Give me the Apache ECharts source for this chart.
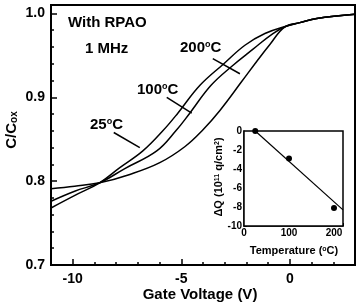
<!DOCTYPE html>
<html><head><meta charset="utf-8">
<script src="https://cdn.jsdelivr.net/npm/echarts@6/dist/echarts.min.js"></script>
<style>html,body{margin:0;padding:0;background:#fff}#c{width:358px;height:304px}</style>
</head><body><div id="c"></div>
<script>
// Main C-V curves (gate voltage in V, normalized capacitance C/Cox)
const voltage25 = [-11, -9.9, -8.76, -7.83, -6.77, -5.85, -5.16, -4.15, -3.04, -2.07, -1.15, -0.14, 0.46, 1.24, 3.0];
const cap25     = [0.768, 0.783, 0.798, 0.816, 0.836, 0.860, 0.881, 0.914, 0.940, 0.962, 0.976, 0.985, 0.989, 0.994, 0.999];
const voltage100 = [-11, -9.91, -8.76, -7.60, -6.13, -5.25, -4.61, -3.64, -2.67, -1.71, -0.78, -0.14, 0.46, 1.24, 3.0];
const cap100     = [0.776, 0.788, 0.798, 0.815, 0.836, 0.860, 0.881, 0.914, 0.937, 0.957, 0.976, 0.985, 0.989, 0.994, 0.999];
const voltage200 = [-11, -9.91, -8.76, -7.37, -5.99, -4.84, -4.01, -3.23, -2.21, -1.52, -0.92, -0.23, 0.46, 1.24, 3.0];
const cap200     = [0.791, 0.794, 0.798, 0.808, 0.822, 0.841, 0.861, 0.884, 0.919, 0.943, 0.963, 0.984, 0.989, 0.994, 0.999];

// Pointer lines from labels to curves (data coordinates)
const pointer25V = [-8.11, -6.91];  const pointer25C = [0.858, 0.840];
const pointer100V = [-5.67, -4.52]; const pointer100C = [0.900, 0.881];
const pointer200V = [-3.55, -2.30]; const pointer200C = [0.946, 0.928];

// Axis ticks
const xMajorTicks = [-10, -5, 0];
const yMajorTicks = [0.7, 0.8, 0.9, 1.0];

// Inset: delta Q vs temperature
const tempC  = [25, 100, 200];
const deltaQ = [0, -2.9, -8.1];
const fitT = [25, 220];
const fitQ = [0, -8.3];

const FONT = '"Liberation Sans", Arial, Helvetica, sans-serif';
const pairs = (xs, ys) => xs.map((x, i) => [x, ys[i]]);
const blackLine = (xs, ys, w, xi, yi, smooth) => ({
  type: 'line', data: pairs(xs, ys), xAxisIndex: xi, yAxisIndex: yi,
  smooth: smooth || false, symbol: 'none', silent: true,
  lineStyle: { color: '#000', width: w }, z: 3
});

const chart = echarts.init(document.getElementById('c'), null, { renderer: 'canvas' });
const tickStyle = { color: '#000', width: 1.5 };
const labelBase = { color: '#000', fontFamily: FONT, fontWeight: 'bold' };

const option = {
  animation: false,
  backgroundColor: '#fff',
  grid: [
    { left: 51, right: 3, top: 5, bottom: 39, show: true, borderColor: '#000', borderWidth: 2, backgroundColor: 'transparent' },
    { left: 244, top: 131, width: 99, height: 95, show: true, borderColor: '#000', borderWidth: 1.5, backgroundColor: '#fff', z: 5 }
  ],
  xAxis: [
    { gridIndex: 0, type: 'value', min: -11, max: 3, interval: 1, position: 'bottom',
      axisLine: { onZero: false, lineStyle: { color: '#000', width: 2 } },
      axisTick: { inside: true, length: 3, lineStyle: tickStyle },
      axisLabel: Object.assign({}, labelBase, { interval: 0, fontSize: 14, margin: 7,
        formatter: v => (Math.abs(v % 5) < 1e-9 ? String(Math.round(v)) : '') }),
      splitLine: { show: false } },
    { gridIndex: 0, type: 'value', min: -11, max: 3, position: 'bottom',
      axisLine: { show: false, onZero: false },
      axisTick: { inside: true, length: 6, customValues: xMajorTicks, lineStyle: tickStyle },
      axisLabel: { show: false }, splitLine: { show: false } },
    { gridIndex: 1, type: 'value', min: 0, max: 220, interval: 50, position: 'bottom',
      axisLine: { onZero: false, lineStyle: { color: '#000', width: 1.5 } },
      axisTick: { inside: true, length: 3, lineStyle: { color: '#000', width: 1 } },
      axisLabel: Object.assign({}, labelBase, { interval: 0, fontSize: 10, margin: 2,
        formatter: v => ((v % 100 === 0 && v <= 200) ? String(v) : '') }),
      splitLine: { show: false } }
  ],
  yAxis: [
    { gridIndex: 0, type: 'value', min: 0.7, max: 1.01, interval: 0.02, position: 'left',
      axisLine: { onZero: false, lineStyle: { color: '#000', width: 2 } },
      axisTick: { inside: true, length: 3, lineStyle: tickStyle },
      axisLabel: Object.assign({}, labelBase, { interval: 0, fontSize: 14, margin: 6,
        formatter: v => { const r = Math.round(v * 10) / 10; return (Math.abs(v - r) < 1e-6 && r <= 1.0001) ? r.toFixed(1) : ''; } }),
      splitLine: { show: false } },
    { gridIndex: 0, type: 'value', min: 0.7, max: 1.01, position: 'left',
      axisLine: { show: false, onZero: false },
      axisTick: { inside: true, length: 6, customValues: yMajorTicks, lineStyle: tickStyle },
      axisLabel: { show: false }, splitLine: { show: false } },
    { gridIndex: 1, type: 'value', min: -10, max: 0, interval: 2, position: 'left',
      axisLine: { onZero: false, lineStyle: { color: '#000', width: 1.5 } },
      axisTick: { inside: true, length: 3, lineStyle: { color: '#000', width: 1 } },
      axisLabel: Object.assign({}, labelBase, { interval: 0, fontSize: 10, margin: 2 }),
      splitLine: { show: false } }
  ],
  series: [
    blackLine(voltage25, cap25, 1.5, 0, 0, 0.4),
    blackLine(voltage100, cap100, 1.5, 0, 0, 0.4),
    blackLine(voltage200, cap200, 1.5, 0, 0, 0.4),
    blackLine(pointer25V, pointer25C, 1.5, 0, 0),
    blackLine(pointer100V, pointer100C, 1.5, 0, 0),
    blackLine(pointer200V, pointer200C, 1.5, 0, 0),
    Object.assign(blackLine(fitT, fitQ, 1.2, 2, 2), { z: 6 }),
    { type: 'scatter', xAxisIndex: 2, yAxisIndex: 2, data: pairs(tempC, deltaQ), symbol: 'circle', symbolSize: 6,
      itemStyle: { color: '#000', opacity: 1 }, silent: true, z: 7 }
  ],
  graphic: [
    { type: 'text', x: 68, y: 23, style: { text: 'With RPAO', font: 'bold 15px ' + FONT, fill: '#000', textAlign: 'left', textVerticalAlign: 'middle' } },
    { type: 'text', x: 85, y: 49, style: { text: '1 MHz', font: 'bold 15px ' + FONT, fill: '#000', textAlign: 'left', textVerticalAlign: 'middle' } },
    { type: 'text', x: 90, y: 125, style: { text: '{a|25}{s|o}{a|C}', textAlign: 'left', textVerticalAlign: 'middle',
        rich: { a: { fontSize: 15, fontWeight: 'bold', fontFamily: FONT, color: '#000' }, s: { fontSize: 9, fontWeight: 'bold', fontFamily: FONT, color: '#000', verticalAlign: 'top' } } } },
    { type: 'text', x: 137, y: 90, style: { text: '{a|100}{s|o}{a|C}', textAlign: 'left', textVerticalAlign: 'middle',
        rich: { a: { fontSize: 15, fontWeight: 'bold', fontFamily: FONT, color: '#000' }, s: { fontSize: 9, fontWeight: 'bold', fontFamily: FONT, color: '#000', verticalAlign: 'top' } } } },
    { type: 'text', x: 180, y: 48, style: { text: '{a|200}{s|o}{a|C}', textAlign: 'left', textVerticalAlign: 'middle',
        rich: { a: { fontSize: 15, fontWeight: 'bold', fontFamily: FONT, color: '#000' }, s: { fontSize: 9, fontWeight: 'bold', fontFamily: FONT, color: '#000', verticalAlign: 'top' } } } },
    { type: 'text', x: 200, y: 295, style: { text: 'Gate Voltage (V)', font: 'bold 15px ' + FONT, fill: '#000', textAlign: 'center', textVerticalAlign: 'middle' } },
    { type: 'text', x: 12, y: 130, rotation: Math.PI / 2, style: { text: '{a|C/C}{b|ox}', textAlign: 'center', textVerticalAlign: 'middle',
        rich: { a: { fontSize: 15, fontWeight: 'bold', fontFamily: FONT, color: '#000' }, b: { fontSize: 10, fontWeight: 'bold', fontFamily: FONT, color: '#000', verticalAlign: 'bottom' } } } },
    { type: 'text', x: 294, y: 251, z: 10, style: { text: '{a|Temperature (}{s|o}{a|C)}', textAlign: 'center', textVerticalAlign: 'middle',
        rich: { a: { fontSize: 11, fontWeight: 'bold', fontFamily: FONT, color: '#000' }, s: { fontSize: 7, fontWeight: 'bold', fontFamily: FONT, color: '#000', verticalAlign: 'top' } } } },
    { type: 'text', x: 219, y: 177, z: 10, rotation: Math.PI / 2, style: { text: '{a|ΔQ (10}{s|11}{a| q/cm}{s|2}{a|)}', textAlign: 'center', textVerticalAlign: 'middle',
        rich: { a: { fontSize: 11, fontWeight: 'bold', fontFamily: FONT, color: '#000' }, s: { fontSize: 7, fontWeight: 'bold', fontFamily: FONT, color: '#000', verticalAlign: 'top' } } } }
  ]
};
chart.setOption(option);
</script>
</body></html>
